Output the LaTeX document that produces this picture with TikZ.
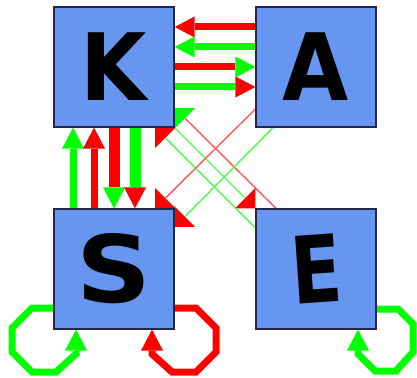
\documentclass[tikz,border=0pt]{standalone}
\usepackage{fontspec}
\usetikzlibrary{arrows.meta,backgrounds}

\newfontfamily\letterfont{DejaVu Sans}

\definecolor{boxblue}{RGB}{102,150,240}
\definecolor{boxline}{RGB}{35,40,75}

\tikzset{
  box/.style={draw=boxline, line width=1.2pt, fill=boxblue, minimum width=120pt,
    minimum height=120pt, inner sep=0pt, font=\letterfont\bfseries\fontsize{93}{93}\selectfont},
  fat/.style={line width=7pt},
  fatter/.style={line width=11pt},
  slim/.style={line width=1.4pt},
  hhead/.style={-{Triangle[length=20pt,width=21pt,line width=0pt,color=#1,fill=#1]}},
  vhead/.style={-{Triangle[length=21pt,width=22pt,line width=0pt,color=#1,fill=#1]}},
  dhead/.style={-{Triangle[length=14.5pt,width=29pt,line width=0pt,color=#1,fill=#1]}}
}

\begin{document}
\begin{tikzpicture}[x=1pt,y=-1pt]

    \useasboundingbox (0,0) rectangle (417,377);

    \node[box] (K) at (114,67) {\scalebox{0.92}[1]{K}};
    \node[box] (A) at (316,67) {\scalebox{0.92}[1]{A}};
    \node[box] (S) at (114,269) {\scalebox{1.12}[1]{S}};
    \node[box] (E) at (316,269) {\rotatebox{4}{\scalebox{0.8}[1]{E}}};

    \begin{scope}[on background layer]
    %K and A
    \draw[fat, red, hhead=red] (A.west |- 0,27) -- (K.east |- 0,27);
    \draw[fat, green, hhead=green] (A.west |- 0,47) -- (K.east |- 0,47);
    \draw[fat, red, hhead=green] (K.east |- 0,67) -- (A.west |- 0,67);
    \draw[fat, green, hhead=red] (K.east |- 0,87) -- (A.west |- 0,87);

    %K and S
    \draw[fat, green, vhead=green] (S.north -| 73,0) -- (K.south -| 73,0);
    \draw[fat, red, vhead=red] (S.north -| 94,0) -- (K.south -| 94,0);
    \draw[fatter, red, vhead=green] (K.south -| 114,0) -- (S.north -| 114,0);
    \draw[fatter, green, vhead=red] (K.south -| 135,0) -- (S.north -| 135,0);

    %crossing lines
    \draw[slim, red!65, dhead=green] (E.north -| 276,0) -- (K.east |- 0,108);
    \draw[slim, green!70, dhead=red] (K.south east) -- (E.north west);
    \draw[slim, green!70, dhead=red] (E.west |- 0,228) -- (K.south -| 155,0);
    \draw[slim, red!65, dhead=red] (A.west |- 0,109) -- (S.north -| 155,0);
    \draw[slim, green!70, dhead=red] (A.south -| 273,0) -- (S.east |- 0,227);

    %loops
    \draw[fat, green, vhead=green] (S.west |- 0,308) -- (32,308) -- (12,328) -- (12,352)
        -- (32,372) -- (56,372) -- (76,354) -- (S.south -| 76,0);
    \draw[fat, red, vhead=red] (S.east |- 0,308) -- (196,308) -- (216,328) -- (216,352)
        -- (196,372) -- (172,372) -- (152,354) -- (S.south -| 152,0);
    \draw[fat, green, vhead=green] (E.east |- 0,309) -- (398,309) -- (413,324) -- (413,352)
        -- (396,371) -- (375,371) -- (358,354) -- (E.south -| 358,0);
    \end{scope}

\end{tikzpicture}
\end{document}
